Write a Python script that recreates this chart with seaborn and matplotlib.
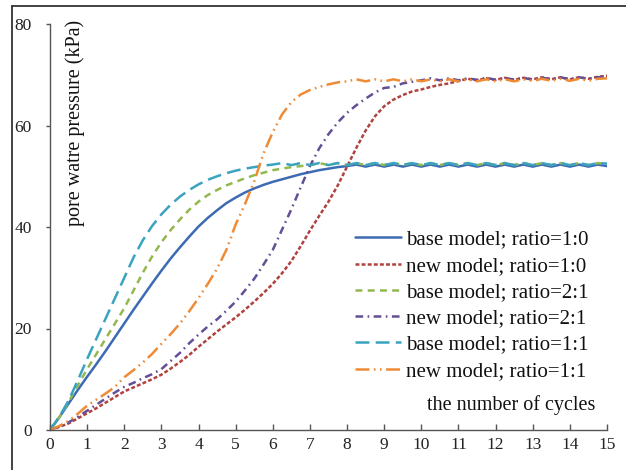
import numpy as np
import pandas as pd
import matplotlib
matplotlib.use("Agg")
import matplotlib.pyplot as plt
from matplotlib.lines import Line2D
import seaborn as sns

# Number of loading cycles (sampled every quarter cycle)
cycles = np.arange(0, 15.001, 0.25)

base_10 = [0, 2.5, 5.2, 7.9, 10.5, 13.0, 15.6, 18.3, 21.0, 23.7, 26.3, 28.9,
           31.4, 33.8, 36.0, 38.1, 40.1, 41.8, 43.3, 44.7, 45.8, 46.8, 47.6, 48.3,
           48.9, 49.4, 49.9, 50.4, 50.8, 51.2, 51.5, 51.8, 52.0, 52.3, 51.9, 52.3,
           51.9, 52.3, 51.9, 52.3, 51.9, 52.3, 51.9, 52.3, 51.9, 52.3, 51.9, 52.3,
           51.9, 52.3, 51.9, 52.3, 51.9, 52.3, 51.9, 52.3, 51.9, 52.3, 51.9, 52.3, 52.0]
new_10 = [0, 0.6, 1.3, 2.3, 3.3, 4.3, 5.4, 6.5, 7.6, 8.4, 9.2, 10.0,
          10.9, 12.1, 13.4, 14.8, 16.4, 17.9, 19.4, 20.8, 22.2, 23.7, 25.3, 27.0,
          28.8, 30.9, 33.3, 36.2, 39.3, 42.2, 45.0, 48.2, 51.9, 55.6, 59.0, 61.8,
          63.8, 65.1, 66.0, 66.7, 67.1, 67.6, 68.0, 68.3, 68.8, 69.2, 68.9, 69.3,
          69.0, 69.4, 69.0, 69.4, 69.1, 69.5, 69.1, 69.5, 69.1, 69.5, 69.2, 69.6, 69.8]
base_21 = [0, 2.5, 5.5, 8.8, 12.0, 15.0, 18.0, 21.0, 24.0, 27.5, 31.0, 34.2,
           37.0, 39.4, 41.5, 43.4, 45.0, 46.3, 47.3, 48.2, 48.9, 49.6, 50.2, 50.7,
           51.2, 51.5, 51.8, 52.0, 52.2, 52.6, 52.2, 52.6, 52.2, 52.6, 52.2, 52.6,
           52.2, 52.6, 52.2, 52.6, 52.2, 52.6, 52.2, 52.6, 52.2, 52.6, 52.2, 52.6,
           52.2, 52.6, 52.2, 52.6, 52.2, 52.6, 52.2, 52.6, 52.2, 52.6, 52.2, 52.6, 52.4]
new_21 = [0, 0.7, 1.5, 2.6, 3.8, 5.0, 6.2, 7.4, 8.5, 9.3, 10.2, 11.0,
          12.0, 13.6, 15.2, 17.1, 18.8, 20.4, 21.8, 23.5, 25.3, 27.5, 29.8, 32.6,
          35.5, 39.5, 43.5, 47.8, 52.0, 55.5, 58.3, 60.6, 62.5, 64.0, 65.3, 66.5,
          67.4, 67.6, 68.3, 68.6, 68.9, 69.3, 68.9, 69.3, 68.9, 69.3, 69.0, 69.4,
          69.0, 69.4, 69.0, 69.4, 69.0, 69.4, 69.1, 69.5, 69.1, 69.5, 69.2, 69.5, 69.6]
base_11 = [0, 2.6, 5.8, 9.8, 14.0, 18.0, 22.0, 26.0, 30.0, 34.0, 37.4, 40.2,
           42.5, 44.4, 46.0, 47.3, 48.4, 49.3, 50.0, 50.6, 51.1, 51.5, 51.8, 52.1,
           52.3, 52.6, 52.2, 52.6, 52.2, 52.6, 52.2, 52.6, 52.2, 52.6, 52.2, 52.6,
           52.2, 52.6, 52.2, 52.6, 52.2, 52.6, 52.2, 52.6, 52.2, 52.6, 52.2, 52.6,
           52.2, 52.6, 52.2, 52.6, 52.2, 52.6, 52.2, 52.6, 52.2, 52.6, 52.2, 52.6, 52.5]
new_11 = [0, 0.8, 1.8, 3.2, 4.8, 6.0, 7.2, 8.5, 10.4, 11.8, 13.3, 15.0,
          17.0, 18.9, 21.0, 23.4, 26.0, 28.8, 31.8, 35.5, 40.5, 44.5, 49.0, 54.5,
          58.7, 62.2, 64.6, 66.1, 67.0, 67.6, 68.1, 68.5, 68.7, 69.1, 68.7, 69.1,
          68.7, 69.1, 68.7, 69.1, 68.7, 69.1, 68.7, 69.1, 68.7, 69.1, 68.7, 69.1,
          68.7, 69.1, 68.7, 69.1, 68.8, 69.2, 68.8, 69.2, 68.8, 69.2, 68.8, 69.2, 69.3]

labels = ["base model; ratio=1:0", "new model; ratio=1:0",
          "base model; ratio=2:1", "new model; ratio=2:1",
          "base model; ratio=1:1", "new model; ratio=1:1"]
series = [base_10, new_10, base_21, new_21, base_11, new_11]
colors = ["#3d6bb3", "#b0423f", "#93b84f", "#634f96", "#3aa3bf", "#ef8a35"]
styles = ["-",
          (0, (2.8, 1.6)),
          (0, (5.0, 3.8)),
          (0, (5.5, 3.2, 1.2, 3.2)),
          (0, (10.0, 4.5)),
          (0, (10.0, 3.2, 1.2, 3.2, 1.2, 3.2))]

sns.set_theme(style="white")
plt.rcParams["font.family"] = ["Liberation Serif", "DejaVu Serif"]
plt.rcParams["lines.scale_dashes"] = False

fig = plt.figure(figsize=(6.26, 4.70), dpi=100)
ax = fig.add_axes([50 / 626, 1 - 430 / 470, 557 / 626, 406 / 470])

for vals, lab, col, ls in zip(series, labels, colors, styles):
    df = pd.DataFrame({"cycles": cycles, "pwp": vals})
    sns.lineplot(data=df, x="cycles", y="pwp", ax=ax, color=col, label=lab,
                 linestyle=ls, linewidth=1.8, dash_capstyle="butt")

ax.set_xlim(0, 15)
ax.set_ylim(0, 80)
ax.set_xticks(range(0, 16))
ax.set_yticks(range(0, 81, 20))
ax.set_xlabel("")
ax.set_ylabel("")

for side in ("top", "right"):
    ax.spines[side].set_visible(False)
for side in ("left", "bottom"):
    ax.spines[side].set_color("#555555")
    ax.spines[side].set_linewidth(1.0)

ax.tick_params(axis="x", direction="in", length=4, width=1, color="#555555",
               labelsize=12.5, pad=5, labelcolor="#222222", bottom=True)
ax.tick_params(axis="y", direction="out", length=3, width=1, color="#555555",
               labelsize=12.5, pad=10, labelcolor="#222222", left=True)

ax.text(0.045, 1.01, "pore watre pressure (kPa)", transform=ax.transAxes,
        rotation=90, ha="center", va="top", fontsize=14.5, color="#111111")
ax.text((595 - 50) / 557, (430 - 405) / 406, "the number of cycles",
        transform=ax.transAxes, ha="right", va="center", fontsize=14.5,
        color="#111111")

leg = ax.legend(loc="upper left", bbox_to_anchor=((355 - 50) / 557, (430 - 230) / 406),
                frameon=False, fontsize=15, handlelength=2.2, handletextpad=0.25,
                labelspacing=0.32, borderpad=0, borderaxespad=0)
for t in leg.get_texts():
    t.set_color("#111111")

# Frame lines along the top and left edges of the figure
fig.add_artist(Line2D([12 / 626, 1], [1 - 6 / 470, 1 - 6 / 470],
                      transform=fig.transFigure, color="#222222", lw=1.2))
fig.add_artist(Line2D([12 / 626, 12 / 626], [0, 1 - 6 / 470],
                      transform=fig.transFigure, color="#222222", lw=1.2))

fig.savefig("out.png", dpi=100)
